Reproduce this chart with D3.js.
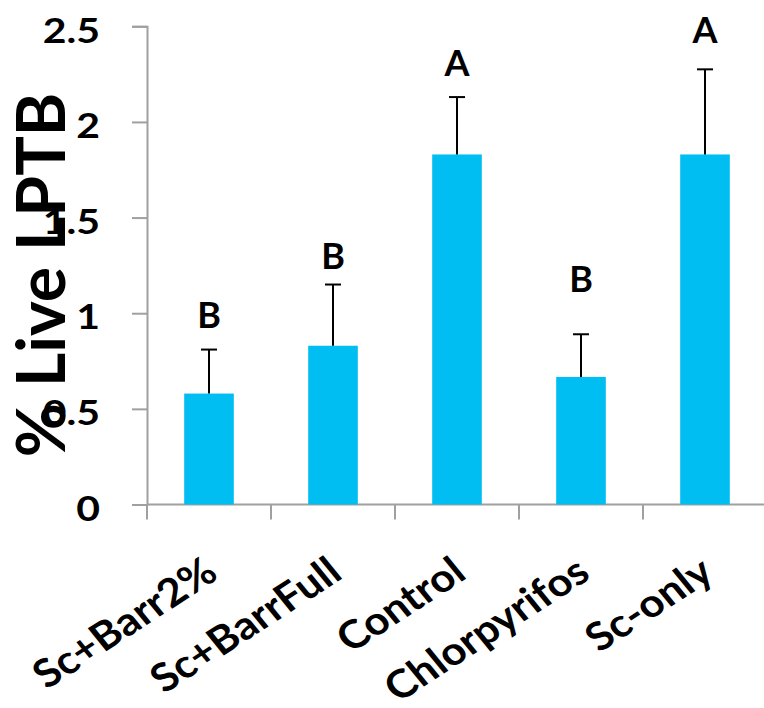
<!DOCTYPE html>
<html><head><meta charset="utf-8">
<script src="https://cdn.jsdelivr.net/npm/d3@7"></script>
<style>
html,body{margin:0;padding:0;background:#fff;}
svg{display:block;font-family:Lato, "Open Sans", sans-serif;font-weight:bold;}
</style></head>
<body>
<svg id="chart" width="764" height="708"></svg>
<script>
const categories = ["Sc+Barr2%", "Sc+BarrFull", "Control", "Chlorpyrifos", "Sc-only"];
const means = [0.58, 0.83, 1.83, 0.667, 1.83];
const errors = [0.23, 0.32, 0.30, 0.223, 0.445];
const groupLetters = ["B", "B", "A", "B", "A"];
const letterPositions = [0.99, 1.30, 2.31, 1.18, 2.48];
const yTicks = [0, 0.5, 1, 1.5, 2, 2.5];
const yTitle = "% Live LPTB";

const svg = d3.select("#chart");
const x = d3.scaleBand().domain(categories).range([147, 767]).paddingInner(0.6).paddingOuter(0.3);
const y = d3.scaleLinear().domain([0, 2.5]).range([504.5, 26.3]);
const axisColor = "#a0a0a0";

// y axis
const yAxis = svg.append("g").attr("transform", "translate(147,0)")
  .call(d3.axisLeft(y).tickValues(yTicks).tickSize(15).tickPadding(0).tickFormat(d => d3.format("")(d)));
yAxis.select(".domain").attr("stroke", axisColor).attr("stroke-width", 2);
yAxis.selectAll(".tick line").attr("stroke", axisColor).attr("stroke-width", 2);
yAxis.selectAll(".tick text").attr("font-size", 35).attr("font-weight", "bold").attr("fill", "#000")
  .attr("font-family", "Lato").attr("x", 0).attr("dy", "0.45em")
  .attr("transform", "translate(-47,0) scale(1.17,1)");

// x axis
const xAxisG = svg.append("g").attr("transform", "translate(0,504.5)");
xAxisG.append("line").attr("x1", 147).attr("x2", 764).attr("stroke", axisColor).attr("stroke-width", 2);
const bounds = categories.map((c, i) => x(c) - x.step() * x.paddingOuter());
bounds.push(bounds[bounds.length - 1] + x.step());
xAxisG.selectAll(".xt").data(bounds).enter().append("line")
  .attr("x1", d => d).attr("x2", d => d).attr("y1", 0).attr("y2", 15)
  .attr("stroke", axisColor).attr("stroke-width", 2);

// bars
svg.append("g").selectAll("rect").data(categories).enter().append("rect")
  .attr("x", d => x(d)).attr("width", x.bandwidth())
  .attr("y", (d, i) => y(means[i])).attr("height", (d, i) => y(0) - y(means[i]))
  .attr("fill", "#00BEF2");

// error bars
const eb = svg.append("g").attr("stroke", "#000").attr("stroke-width", 2);
categories.forEach((c, i) => {
  const cx = x(c) + x.bandwidth() / 2;
  eb.append("line").attr("x1", cx).attr("x2", cx).attr("y1", y(means[i])).attr("y2", y(means[i] + errors[i]));
  eb.append("line").attr("x1", cx - 8).attr("x2", cx + 8).attr("y1", y(means[i] + errors[i])).attr("y2", y(means[i] + errors[i]));
});

// group letters
svg.append("g").selectAll("text").data(categories).enter().append("text")
  .attr("x", d => x(d) + x.bandwidth() / 2)
  .attr("y", (d, i) => y(letterPositions[i]))
  .attr("dy", "0.36em")
  .attr("text-anchor", "middle").attr("font-size", 36).attr("font-weight", "bold")
  .text((d, i) => groupLetters[i]);

// x labels
svg.append("g").selectAll("text").data(categories).enter().append("text")
  .attr("transform", d => `translate(${x(d) + x.bandwidth() / 2 + 2},566) scale(1.12,1) rotate(-36)`)
  .attr("text-anchor", "end").attr("dy", "0.36em")
  .attr("font-size", 39).attr("font-weight", "bold")
  .text(d => d);

// y title
svg.append("text")
  .attr("transform", "translate(65,275) rotate(-90)")
  .attr("text-anchor", "middle")
  .attr("font-size", 66).attr("font-weight", "bold")
  .text(yTitle);
</script>
</body></html>
